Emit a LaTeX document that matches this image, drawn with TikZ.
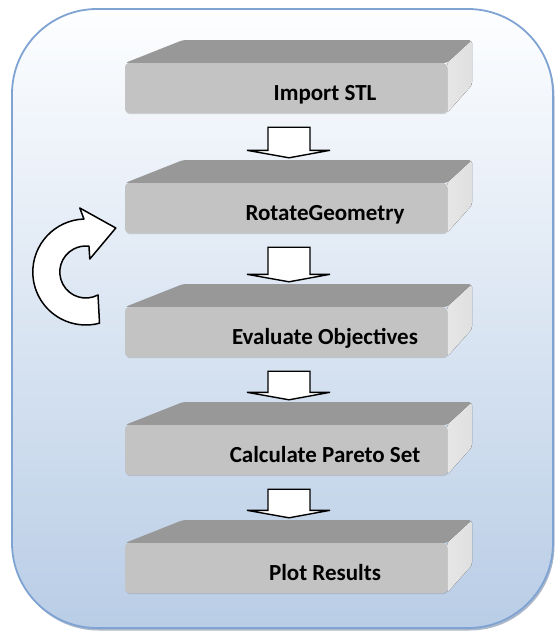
\documentclass[tikz,border=0pt]{standalone}
\usepackage{fontspec}
\setmainfont{Carlito}
\usetikzlibrary{calc,shadows}

\begin{document}
\begin{tikzpicture}[x=1pt,y=1pt]
  % Colors
  \definecolor{framecolor}{RGB}{127,163,210}
  \definecolor{frametop}{RGB}{253,254,255}
  \definecolor{framebottom}{RGB}{185,205,230}
  \definecolor{frontcolor}{RGB}{195,195,195}
  \definecolor{topcolor}{RGB}{152,152,152}
  \definecolor{sidecolor}{RGB}{224,224,224}

  % Styles
  \tikzstyle{frame}=[rounded corners=85pt,draw=framecolor,line width=1.8pt,
    top color=frametop,bottom color=framebottom,
    drop shadow={shadow xshift=1.5pt,shadow yshift=-2.5pt,fill=framecolor!70!black,opacity=0.5}]
  \tikzstyle{stage}=[rectangle,rounded corners=4pt,fill=frontcolor,inner sep=0pt,
    minimum width=322pt,minimum height=50pt,text height=24pt,text depth=0pt,
    font=\bfseries\fontsize{23}{28}\selectfont,
    drop shadow={shadow xshift=0.8pt,shadow yshift=-1.2pt,opacity=0.3}]
  \tikzstyle{stage top}=[fill=topcolor,rounded corners=3pt]
  \tikzstyle{stage side}=[rounded corners=3pt,left color=sidecolor!80!white,right color=sidecolor]
  \tikzstyle{block arrow}=[draw=black,fill=white,line width=1.4pt]
  \tikzstyle{loop arrow}=[draw=black,fill=white,line width=1.5pt,line join=round]

  % The graphic
  \useasboundingbox (0,0) rectangle (555,-635);
  \path[frame] (12,-9) rectangle (553,-628);

  % the five stages
  \foreach \name/\y/\txt in {b1/88/Import STL, b2/208/RotateGeometry,
      b3/332/Evaluate Objectives, b4/450/Calculate Pareto Set, b5/568/Plot Results}
  {
    \fill[stage top] (125,25-\y) -- (183,48-\y) -- (472,48-\y) -- (447,25-\y) -- cycle;
    \fill[stage side] (447,25-\y) -- (472,48-\y) -- (472,3-\y) -- (447,-25-\y) -- cycle;
    \node[stage] (\name) at (286,-\y) {\hspace*{78pt}\txt};
  }

  % block arrows between the stages
  \foreach \from/\to in {b1/b2,b2/b3,b3/b4,b4/b5}
    \draw[block arrow] let \p1=(\from.south), \p2=(\to.north) in
      (\x1-18,\y1-14) -- (\x1+24,\y1-14) -- (\x1+24,\y2+32.5) -- (\x1+44,\y2+32.5)
      -- (\x1+3,\y2+25) -- (\x1-39,\y2+32.5) -- (\x1-18,\y2+32.5) -- cycle;

  % loop back from the evaluation to the rotation
  \coordinate (loop) at ($(b2.west)!0.5!(b3.west)+(-39,-2)$);
  \draw[loop arrow,shift={(loop)}] (30,44) -- (-6,64) -- (92:53)
    arc[start angle=92,end angle=285,radius=53] -- (298:26)
    arc[start angle=298,end angle=83,radius=26] -- (4,13) -- cycle;
\end{tikzpicture}
\end{document}
